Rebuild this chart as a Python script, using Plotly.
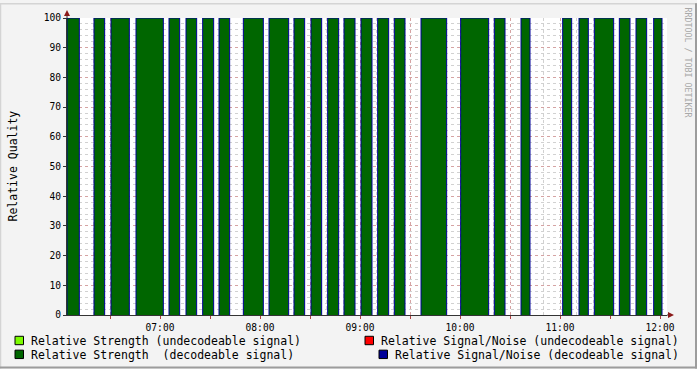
import pandas as pd
import plotly.graph_objects as go

DAY = "2024-01-01 "

# Periods where a decodeable signal was received (start, end)
seg_start = ["06:04:12", "06:20:24", "06:30:36", "06:45:36", "07:05:24", "07:15:36",
             "07:25:36", "07:35:24", "07:50:00", "08:05:24", "08:20:24", "08:30:36",
             "08:40:36", "08:50:24", "09:00:36", "09:10:36", "09:20:36", "09:36:36",
             "10:00:24", "10:20:36", "10:36:36", "11:01:36", "11:11:24", "11:20:36",
             "11:35:36", "11:45:36", "11:56:12"]
seg_end = ["06:11:36", "06:26:48", "06:41:36", "07:02:00", "07:11:48", "07:22:00",
           "07:32:12", "07:41:48", "08:02:00", "08:17:12", "08:26:48", "08:37:00",
           "08:47:12", "08:57:00", "09:07:12", "09:17:12", "09:27:00", "09:52:00",
           "10:17:12", "10:27:00", "10:42:00", "11:07:00", "11:17:00", "11:32:12",
           "11:42:00", "11:52:00", "12:01:12"]
strength_decodeable = [100] * 27
snr_decodeable = [100] * 27

series_names = ["Relative Strength (undecodeable signal)",
                "Relative Signal/Noise (undecodeable signal)",
                "Relative Strength  (decodeable signal)",
                "Relative Signal/Noise (decodeable signal)"]
series_colors = ["#7cfc00", "#ff0000", "#006600", "#000099"]

x_start = DAY + "06:04:12"
x_end = DAY + "12:04:12"

# plot area in pixels
L, R, T, B = 67, 667, 15, 315
W, H = 697, 369


def xp(px):
    return (px - L) / (R - L)


def yp(py):
    return (B - py) / (B - T)


def path(values):
    xs, ys = [], []
    for s, e, v in zip(seg_start, seg_end, values):
        xs += [DAY + s, DAY + s, DAY + e, DAY + e, None]
        ys += [0, v, v, 0, None]
    return xs, ys


fig = go.Figure()
gx, gy = path(strength_decodeable)
fig.add_trace(go.Scatter(x=gx, y=gy, mode="lines", fill="toself",
                         fillcolor=series_colors[2], line=dict(width=0),
                         hoverinfo="skip", showlegend=False))
bx, by = path(snr_decodeable)
fig.add_trace(go.Scatter(x=bx, y=by, mode="lines",
                         line=dict(color=series_colors[3], width=1),
                         hoverinfo="skip", showlegend=False))

mono = "DejaVu Sans Mono"
MAJ = "rgba(220,90,90,0.38)"
MIN = "rgba(90,90,90,0.28)"

# x ticks every 30 min, labels on full hours
tickvals, ticktext = [], []
for h in range(6, 13):
    for m in (0, 30):
        t = pd.Timestamp(f"{DAY}{h:02d}:{m:02d}:00")
        if pd.Timestamp(x_start) <= t <= pd.Timestamp(x_end):
            tickvals.append(t)
            ticktext.append(f"{h:02d}:00" if m == 0 else "")

fig.update_xaxes(type="date", range=[x_start, x_end],
                 tickvals=tickvals, ticktext=ticktext,
                 showgrid=True, gridcolor=MAJ, griddash="dot", gridwidth=1,
                 minor=dict(dtick=600000, tick0=DAY + "06:00:00", showgrid=True,
                            gridcolor=MIN, griddash="dot", gridwidth=1,
                            ticks=""),
                 ticks="outside", ticklen=3, tickcolor="#b04040",
                 showline=True, linecolor="#333333", linewidth=1,
                 tickfont=dict(family=mono, size=9.6, color="#000"),
                 layer="above traces", zeroline=False, fixedrange=True)
fig.update_yaxes(range=[0, 100], tickvals=list(range(0, 101, 10)),
                 showgrid=True, gridcolor=MAJ, griddash="dot", gridwidth=1,
                 minor=dict(dtick=2, showgrid=True, gridcolor=MIN,
                            griddash="dot", gridwidth=1, ticks=""),
                 ticks="outside", ticklen=3, tickcolor="#333",
                 showline=True, linecolor="#333333", linewidth=1,
                 tickfont=dict(family=mono, size=9.6, color="#000"),
                 layer="above traces", zeroline=False, fixedrange=True)

shapes = []
# frame
shapes.append(dict(type="line", xref="paper", yref="paper", x0=xp(0), x1=xp(W), y0=yp(0.5), y1=yp(0.5),
                   line=dict(color="#d4d4d4", width=1.5)))
shapes.append(dict(type="line", xref="paper", yref="paper", x0=xp(0.5), x1=xp(0.5), y0=yp(0), y1=yp(H),
                   line=dict(color="#d4d4d4", width=1.5)))
shapes.append(dict(type="line", xref="paper", yref="paper", x0=xp(0), x1=xp(W), y0=yp(H - 1), y1=yp(H - 1),
                   line=dict(color="#9c9c9c", width=2)))
shapes.append(dict(type="line", xref="paper", yref="paper", x0=xp(W - 1), x1=xp(W - 1), y0=yp(0), y1=yp(H),
                   line=dict(color="#9c9c9c", width=2)))
# axis extension + arrows
shapes.append(dict(type="line", xref="paper", yref="paper", x0=1, x1=xp(670), y0=0, y1=0,
                   line=dict(color="#333333", width=1)))
shapes.append(dict(type="line", xref="paper", yref="paper", x0=0, x1=0, y0=1, y1=yp(11),
                   line=dict(color="#333333", width=1)))
shapes.append(dict(type="path", xref="paper", yref="paper",
                   path=f"M {xp(668)} {yp(312)} L {xp(674)} {yp(315)} L {xp(668)} {yp(318)} Z",
                   fillcolor="#8b1a1a", line=dict(width=0)))
shapes.append(dict(type="path", xref="paper", yref="paper",
                   path=f"M {xp(64)} {yp(13)} L {xp(67)} {yp(7)} L {xp(70)} {yp(13)} Z",
                   fillcolor="#8b1a1a", line=dict(width=0)))

annotations = []
annotations.append(dict(text="Relative Quality", xref="paper", yref="paper", x=xp(12), y=yp(165),
                        textangle=-90, showarrow=False, xanchor="center", yanchor="middle",
                        font=dict(family=mono, size=11.5, color="#000")))
annotations.append(dict(text="RRDTOOL / TOBI OETIKER", xref="paper", yref="paper", x=xp(688), y=yp(60),
                        textangle=90, showarrow=False, xanchor="center", yanchor="middle",
                        font=dict(family=mono, size=8.3, color="#a8a8a8")))

# legend (manual, rrdtool style)
legend_pos = [  # square x0, row center y, text x, text anchor
    (15, 341, 30, "left"),
    (365, 341, 680, "right"),
    (15, 355, 30, "left"),
    (379, 355, 680, "right"),
]
for name, col, (sx, cy, tx, anchor) in zip(series_names, series_colors, legend_pos):
    shapes.append(dict(type="rect", xref="paper", yref="paper",
                       x0=xp(sx), x1=xp(sx + 8.5), y0=yp(cy - 4.5), y1=yp(cy + 4),
                       fillcolor=col, line=dict(color="#000", width=1)))
    annotations.append(dict(text=name.replace(" ", "&nbsp;") if "  " in name else name,
                            xref="paper", yref="paper", x=xp(tx), y=yp(cy),
                            xanchor=anchor, yanchor="middle", showarrow=False, borderpad=0,
                            font=dict(family=mono, size=11.5, color="#000")))

fig.update_layout(width=W, height=H, autosize=False,
                  margin=dict(l=L, r=W - R, t=T, b=H - B, pad=0),
                  paper_bgcolor="#f3f3f3", plot_bgcolor="#ffffff",
                  showlegend=False, shapes=shapes, annotations=annotations,
                  font=dict(family=mono))

fig.write_html("out.html", config={"displayModeBar": False, "staticPlot": True})
